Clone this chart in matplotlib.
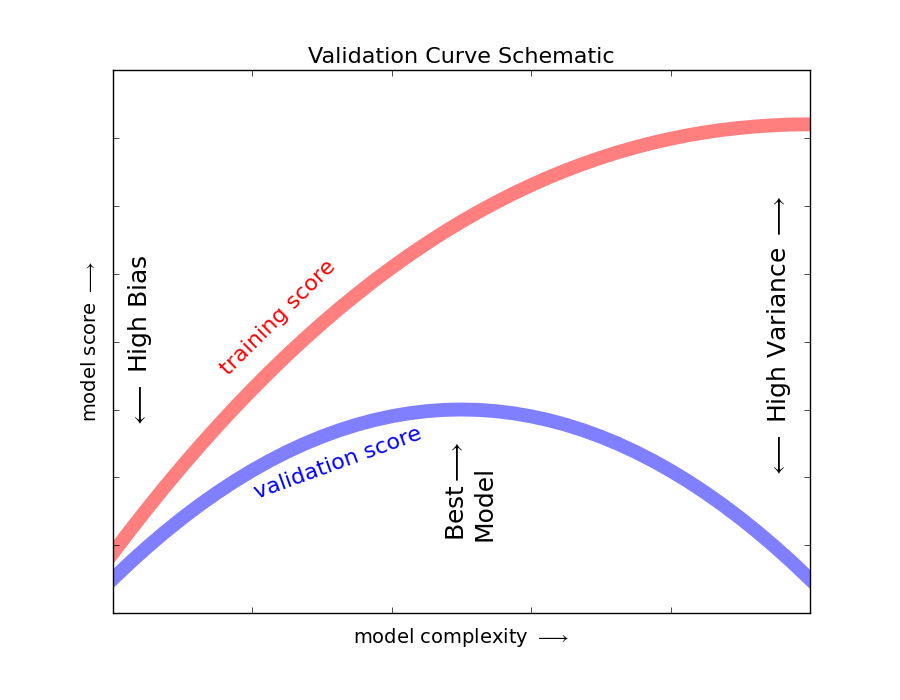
import matplotlib
matplotlib.use("Agg")
import matplotlib.pyplot as plt

complexity = [0.000, 0.025, 0.050, 0.075, 0.100, 0.125, 0.150, 0.175, 0.200, 0.225,
              0.250, 0.275, 0.300, 0.325, 0.350, 0.375, 0.400, 0.425, 0.450, 0.475,
              0.500, 0.525, 0.550, 0.575, 0.600, 0.625, 0.650, 0.675, 0.700, 0.725,
              0.750, 0.775, 0.800, 0.825, 0.850, 0.875, 0.900, 0.925, 0.950, 0.975,
              1.000]
validation_score = [-0.2500, -0.2256, -0.2025, -0.1806, -0.1600, -0.1406, -0.1225,
                    -0.1056, -0.0900, -0.0756, -0.0625, -0.0506, -0.0400, -0.0306,
                    -0.0225, -0.0156, -0.0100, -0.0056, -0.0025, -0.0006, 0.0000,
                    -0.0006, -0.0025, -0.0056, -0.0100, -0.0156, -0.0225, -0.0306,
                    -0.0400, -0.0506, -0.0625, -0.0756, -0.0900, -0.1056, -0.1225,
                    -0.1406, -0.1600, -0.1806, -0.2025, -0.2256, -0.2500]
training_score = [-0.2121, -0.1784, -0.1458, -0.1140, -0.0834, -0.0537, -0.0251,
                  0.0026, 0.0293, 0.0551, 0.0799, 0.1037, 0.1266, 0.1486, 0.1695,
                  0.1897, 0.2088, 0.2271, 0.2444, 0.2610, 0.2765, 0.2913, 0.3051,
                  0.3182, 0.3303, 0.3417, 0.3522, 0.3619, 0.3708, 0.3790, 0.3863,
                  0.3929, 0.3987, 0.4039, 0.4082, 0.4119, 0.4148, 0.4171, 0.4187,
                  0.4197, 0.4200]

plt.style.use('classic')

fig, ax = plt.subplots(figsize=(9, 7), dpi=100)
fig.subplots_adjust(left=0.125, right=0.9, top=0.9, bottom=0.124)
fig.patch.set_facecolor('white')

ax.plot(complexity, validation_score, lw=10, alpha=0.5, color='blue',
        solid_joinstyle='round')
ax.plot(complexity, training_score, lw=10, alpha=0.5, color='red',
        solid_joinstyle='round')

ax.text(0.15, 0.045, "training score", rotation=45, size=16, color='red',
        ha='left', va='bottom')
ax.text(0.2, -0.138, "validation score", rotation=20, size=16, color='blue',
        ha='left', va='bottom')

ax.text(0.02, 0.1, r'$\longleftarrow$ High Bias', size=18, rotation=90, va='center')
ax.text(0.976, 0.106, r'$\longleftarrow$ High Variance $\longrightarrow$', size=18,
        rotation=90, ha='right', va='center')
ax.text(0.476, -0.12, 'Best$\\longrightarrow$\nModel', size=18, rotation=90,
        va='center')

ax.set_xlim(0, 1)
ax.set_ylim(-0.3, 0.5)

ax.set_xlabel(r'model complexity $\longrightarrow$', size=14)
ax.set_ylabel(r'model score $\longrightarrow$', size=14)

ax.xaxis.set_major_formatter(plt.NullFormatter())
ax.yaxis.set_major_formatter(plt.NullFormatter())

ax.set_title("Validation Curve Schematic", size=16)

fig.savefig("out.png", facecolor='white')
